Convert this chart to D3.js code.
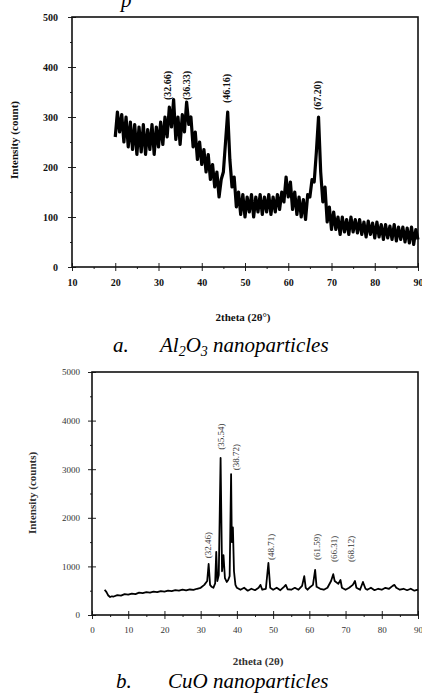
<!DOCTYPE html>
<html>
<head>
<meta charset="utf-8">
<style>
body { margin:0; background:#fff; }
text { font-family: "Liberation Serif", "Times New Roman", serif; }
</style>
</head>
<body>
<script src="https://d3js.org/d3.v7.min.js"></script>
<script>
// window size
var svgWidth = 422;
var svgHeight = 700;

// ---- data: Al2O3 pattern, 2theta from 20 to 90 in 0.5 deg steps
var al2theta = [20,20.5,21,21.5,22,22.5,23,23.5,24,24.5,25,25.5,26,26.5,27,27.5,28,28.5,29,29.5,
  30,30.5,31,31.5,32,32.5,33,33.5,34,34.5,35,35.5,36,36.5,37,37.5,38,38.5,39,39.5,
  40,40.5,41,41.5,42,42.5,43,43.5,44,44.5,45,45.5,46,46.5,47,47.5,48,48.5,49,49.5,
  50,50.5,51,51.5,52,52.5,53,53.5,54,54.5,55,55.5,56,56.5,57,57.5,58,58.5,59,59.5,
  60,60.5,61,61.5,62,62.5,63,63.5,64,64.5,65,65.5,66,66.5,67,67.5,68,68.5,69,69.5,
  70,70.5,71,71.5,72,72.5,73,73.5,74,74.5,75,75.5,76,76.5,77,77.5,78,78.5,79,79.5,
  80,80.5,81,81.5,82,82.5,83,83.5,84,84.5,85,85.5,86,86.5,87,87.5,88,88.5,89,89.5,90]
var alCounts = [260,310,270,305,250,300,240,290,235,285,225,280,230,285,225,275,235,285,225,280,
  240,290,245,300,260,320,280,335,255,300,245,305,270,330,285,300,240,270,215,250,
  205,235,190,225,175,205,160,190,140,175,190,250,310,215,160,180,120,150,105,145,
  100,140,110,145,100,140,110,145,105,140,110,145,105,140,110,145,115,150,130,180,
  140,170,115,150,105,140,100,135,95,145,140,175,170,230,300,190,130,160,90,120,
  75,110,75,100,65,100,70,95,65,100,70,95,68,95,65,90,60,92,65,88,
  58,90,60,85,55,85,58,82,55,85,52,80,55,80,50,78,48,80,45,75,55]
var alPeakText = ['(32.66)','(36.33)','(46.16)','(67.20)']
var alPeak2theta = [32.2, 36.6, 45.9, 66.9]
var alPeakBase = [334, 334, 328, 314]
var alYTicks = [0,100,200,300,400,500]
var alXTicks = [10,20,30,40,50,60,70,80,90]

// ---- data: CuO pattern
var cu2theta = [3.5,4,4.5,5,5.5,6,7,8,9,10,11,12,13,14,15,16,17,18,19,20,
  21,22,23,24,25,26,27,28,29,30,31,31.8,32.2,32.6,33,33.5,34,34.3,34.6,35,
  35.5,35.9,36.3,36.7,37.2,37.6,38,38.4,38.6,38.9,39.2,39.6,40,41,42,43,44,45,46,46.5,
  47,48,48.7,49.2,50,51,52,53,53.5,54,55,56,57,58,58.6,59,59.5,60,61,61.6,
  62,63,64,65,66,66.6,67,68,68.6,69,70,71,72,72.6,73,74,74.8,75.5,76,77,
  78,79,80,81,82,83,83.5,84,85,86,87,88,89,90]
var cuCounts = [520,470,400,370,385,380,410,400,430,420,440,430,460,450,470,460,480,470,490,480,
  500,490,510,500,520,505,525,515,540,560,620,700,1050,620,580,560,650,1300,700,820,
  3230,900,1230,760,680,720,800,2900,1500,1800,900,620,560,520,560,500,540,510,560,620,
  520,540,1070,560,520,560,510,580,620,530,520,560,520,600,800,560,520,560,620,930,
  580,540,520,560,700,840,700,640,720,560,520,560,620,700,560,520,680,540,520,560,
  510,540,520,560,540,600,620,560,520,540,510,540,500,520]
var cuPeakText = ['(32.46)','(35.54)','(38.72)','(48.71)','(61.59)','(66.31)','(68.12)']
var cuPeak2theta = [32.1, 35.6, 39.8, 49.3, 62.0, 66.7, 71.4]
var cuPeakBase = [1170, 3400, 2980, 1130, 1130, 1090, 1090]
var cuYTicks = [0,1000,2000,3000,4000,5000]
var cuXTicks = [0,10,20,30,40,50,60,70,80,90]

var svg = d3.select('body').append('svg')
	.attr('width', svgWidth)
	.attr('height', svgHeight)

// draws one framed XRD panel
function drawPanel(opt) {
	var x = d3.scaleLinear().domain(opt.xDomain).range([opt.left, opt.right])
	var y = d3.scaleLinear().domain(opt.yDomain).range([opt.bottom, opt.top])
	var g = svg.append('g')

	// minor ticks
	g.append('g')
		.attr('transform', 'translate(0,' + opt.bottom + ')')
		.call(d3.axisBottom(x).tickValues(opt.xMinor).tickSize(2).tickFormat(''))
		.call(function(s){ s.select('.domain').remove() })
	g.append('g')
		.attr('transform', 'translate(' + opt.left + ',0)')
		.call(d3.axisLeft(y).tickValues(opt.yMinor).tickSize(2).tickFormat(''))
		.call(function(s){ s.select('.domain').remove() })

	// major ticks + labels
	var xa = g.append('g')
		.attr('transform', 'translate(0,' + opt.bottom + ')')
		.call(d3.axisBottom(x).tickValues(opt.xTicks).tickSize(4).tickPadding(opt.xPad).tickFormat(d3.format('d')))
	xa.select('.domain').remove()
	xa.selectAll('.tick line').attr('y1', -4)
	var ya = g.append('g')
		.attr('transform', 'translate(' + opt.left + ',0)')
		.call(d3.axisLeft(y).tickValues(opt.yTicks).tickSize(4).tickPadding(opt.yPad).tickFormat(d3.format('d')))
	ya.select('.domain').remove()
	ya.selectAll('.tick line').attr('x1', 4)
	g.selectAll('.tick text')
		.attr('font-family', '"Liberation Serif", serif')
		.attr('font-size', opt.tickFont)
		.attr('font-weight', opt.tickWeight)
		.attr('fill', opt.tickColor)
	g.selectAll('.tick line').attr('stroke', '#222')

	// frame
	g.append('rect')
		.attr('x', opt.left).attr('y', opt.top)
		.attr('width', opt.right - opt.left)
		.attr('height', opt.bottom - opt.top)
		.attr('fill', 'none')
		.attr('stroke', '#111')
		.attr('stroke-width', 1.6)

	// pattern
	var pts = opt.xs.map(function(d,i){ return [d, opt.ys[i]] })
	g.append('path')
		.datum(pts)
		.attr('d', d3.line().x(function(d){ return x(d[0]) }).y(function(d){ return y(d[1]) }))
		.attr('fill', 'none')
		.attr('stroke', '#000')
		.attr('stroke-width', opt.lineWidth)
		.attr('stroke-linejoin', 'round')

	// peak labels, rotated
	g.selectAll('.peak')
		.data(opt.peakText)
		.enter().append('text')
		.attr('class', 'peak')
		.attr('transform', function(d,i){
			return 'translate(' + (x(opt.peakX[i]) + 3) + ',' + y(opt.peakBase[i]) + ') rotate(-90)'
		})
		.attr('font-size', opt.peakFont)
		.attr('font-weight', opt.tickWeight)
		.attr('fill', opt.tickColor)
		.text(function(d){ return d })

	// axis titles
	g.append('text')
		.attr('x', (opt.left + opt.right) / 2 + opt.xTitleShift)
		.attr('y', opt.xTitleY)
		.attr('text-anchor', 'middle')
		.attr('font-size', 11)
		.attr('font-weight', 'bold')
		.attr('fill', opt.tickColor)
		.text(opt.xTitle)
	g.append('text')
		.attr('transform', 'translate(' + opt.yTitleX + ',' + opt.yTitleY + ') rotate(-90)')
		.attr('text-anchor', 'middle')
		.attr('font-size', 11)
		.attr('font-weight', 'bold')
		.attr('fill', opt.tickColor)
		.text(opt.yTitle)
}

drawPanel({
	xDomain: [10, 90], yDomain: [0, 500],
	left: 72, right: 418, top: 17, bottom: 267,
	xTicks: alXTicks, yTicks: alYTicks,
	xMinor: d3.range(15, 90, 10), yMinor: d3.range(50, 500, 100),
	xPad: 8, yPad: 10, tickFont: 10, tickWeight: 'bold', tickColor: '#111',
	xs: al2theta, ys: alCounts, lineWidth: 3.2,
	peakText: alPeakText, peakX: alPeak2theta, peakBase: alPeakBase, peakFont: 10,
	xTitle: '2theta (2θ°)', xTitleY: 321, xTitleShift: -2,
	yTitle: 'Intensity (count)', yTitleX: 18, yTitleY: 140
})

drawPanel({
	xDomain: [0, 90], yDomain: [0, 5000],
	left: 92, right: 418, top: 372, bottom: 615,
	xTicks: cuXTicks, yTicks: cuYTicks,
	xMinor: d3.range(5, 90, 10), yMinor: d3.range(500, 5000, 1000),
	xPad: 8, yPad: 8, tickFont: 9, tickWeight: 'normal', tickColor: '#333',
	xs: cu2theta, ys: cuCounts, lineWidth: 1.8,
	peakText: cuPeakText, peakX: cuPeak2theta, peakBase: cuPeakBase, peakFont: 9,
	xTitle: '2theta (2θ)', xTitleY: 665, xTitleShift: 3,
	yTitle: 'Intensity (counts)', yTitleX: 36, yTitleY: 493
})

// captions (the one above the top panel is cut off by the page edge)
svg.append('text')
	.attr('x', 121).attr('y', 7)
	.attr('font-size', 21).attr('font-style', 'italic')
	.text('p')

var capA = svg.append('text')
	.attr('x', 113).attr('y', 352)
	.attr('font-size', 21).attr('font-style', 'italic')
capA.append('tspan').text('a.')
capA.append('tspan').attr('x', 160).text('Al')
capA.append('tspan').attr('font-size', 14).attr('dy', 4).text('2')
capA.append('tspan').attr('dy', -4).text('O')
capA.append('tspan').attr('font-size', 14).attr('dy', 4).text('3')
capA.append('tspan').attr('dy', -4).text(' nanoparticles')

var capB = svg.append('text')
	.attr('x', 116).attr('y', 688)
	.attr('font-size', 21).attr('font-style', 'italic')
capB.append('tspan').text('b.')
capB.append('tspan').attr('x', 168).text('CuO nanoparticles')
</script>
</body>
</html>
